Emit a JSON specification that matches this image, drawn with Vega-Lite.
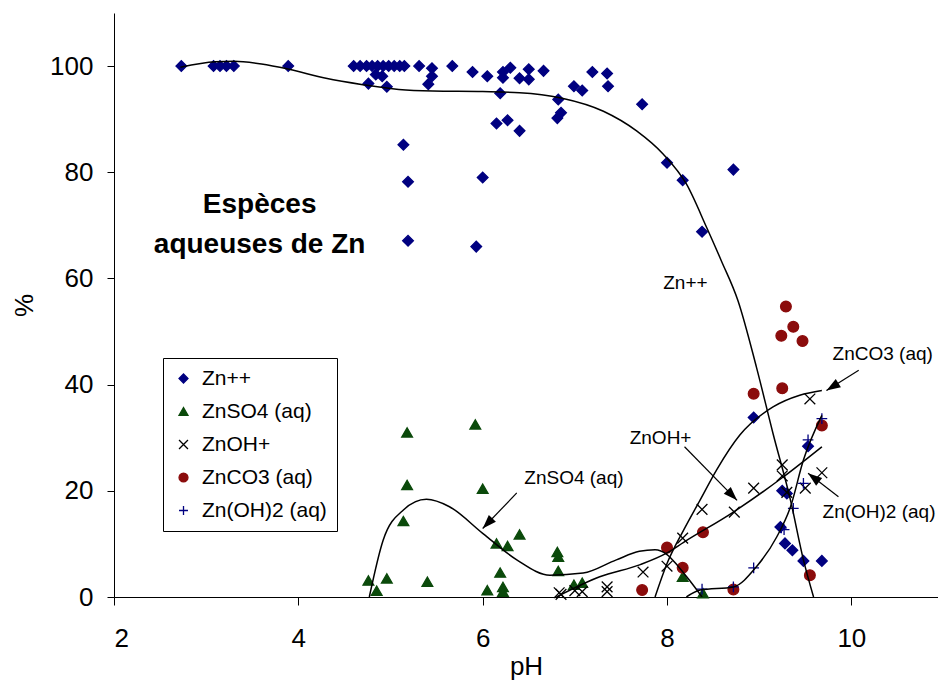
{
  "$schema": "https://vega.github.io/schema/vega-lite/v6.json",
  "width": 824,
  "height": 584,
  "autosize": {"type": "none"},
  "padding": {"left": 114, "top": 13, "right": 0, "bottom": 86},
  "background": "white",
  "config": {
    "view": {"stroke": null},
    "font": "Liberation Sans",
    "axis": {
      "grid": false,
      "domainColor": "black",
      "domainWidth": 1,
      "tickColor": "black",
      "tickWidth": 1,
      "labelColor": "black",
      "titleColor": "black",
      "labelFont": "Liberation Sans",
      "titleFont": "Liberation Sans",
      "labelFontSize": 26,
      "titleFontSize": 26,
      "titleFontWeight": "normal"
    },
    "legend": {
      "strokeColor": "black",
      "fillColor": "white",
      "padding": 10,
      "rowPadding": 11,
      "labelFontSize": 21,
      "labelFont": "Liberation Sans",
      "labelColor": "black",
      "symbolSize": 80,
      "symbolStrokeWidth": 1.3,
      "labelOffset": 8,
      "cornerRadius": 0
    }
  },
  "datasets": {
    "pts": [
      {"pH": 2.73, "pct": 100, "s": "Zn++"},
      {"pH": 3.08, "pct": 100, "s": "Zn++"},
      {"pH": 3.15, "pct": 100, "s": "Zn++"},
      {"pH": 3.22, "pct": 100, "s": "Zn++"},
      {"pH": 3.30, "pct": 100, "s": "Zn++"},
      {"pH": 3.89, "pct": 100, "s": "Zn++"},
      {"pH": 4.60, "pct": 100, "s": "Zn++"},
      {"pH": 4.67, "pct": 100, "s": "Zn++"},
      {"pH": 4.74, "pct": 100, "s": "Zn++"},
      {"pH": 4.80, "pct": 100, "s": "Zn++"},
      {"pH": 4.86, "pct": 100, "s": "Zn++"},
      {"pH": 4.92, "pct": 100, "s": "Zn++"},
      {"pH": 4.98, "pct": 100, "s": "Zn++"},
      {"pH": 5.04, "pct": 100, "s": "Zn++"},
      {"pH": 5.10, "pct": 100, "s": "Zn++"},
      {"pH": 5.15, "pct": 100, "s": "Zn++"},
      {"pH": 4.84, "pct": 98.4, "s": "Zn++"},
      {"pH": 4.91, "pct": 98.1, "s": "Zn++"},
      {"pH": 4.76, "pct": 96.7, "s": "Zn++"},
      {"pH": 4.96, "pct": 96.1, "s": "Zn++"},
      {"pH": 5.14, "pct": 85.2, "s": "Zn++"},
      {"pH": 5.19, "pct": 78.2, "s": "Zn++"},
      {"pH": 5.19, "pct": 67.1, "s": "Zn++"},
      {"pH": 5.31, "pct": 100, "s": "Zn++"},
      {"pH": 5.45, "pct": 99.6, "s": "Zn++"},
      {"pH": 5.45, "pct": 98.1, "s": "Zn++"},
      {"pH": 5.41, "pct": 96.6, "s": "Zn++"},
      {"pH": 5.67, "pct": 100, "s": "Zn++"},
      {"pH": 5.89, "pct": 98.9, "s": "Zn++"},
      {"pH": 6.05, "pct": 98.1, "s": "Zn++"},
      {"pH": 6.22, "pct": 98.9, "s": "Zn++"},
      {"pH": 6.30, "pct": 99.7, "s": "Zn++"},
      {"pH": 6.22, "pct": 97.8, "s": "Zn++"},
      {"pH": 6.40, "pct": 97.7, "s": "Zn++"},
      {"pH": 6.50, "pct": 99.4, "s": "Zn++"},
      {"pH": 6.50, "pct": 97.5, "s": "Zn++"},
      {"pH": 6.66, "pct": 99.1, "s": "Zn++"},
      {"pH": 6.19, "pct": 94.9, "s": "Zn++"},
      {"pH": 6.15, "pct": 89.2, "s": "Zn++"},
      {"pH": 6.27, "pct": 89.8, "s": "Zn++"},
      {"pH": 6.40, "pct": 87.8, "s": "Zn++"},
      {"pH": 6.00, "pct": 79.0, "s": "Zn++"},
      {"pH": 5.93, "pct": 66.0, "s": "Zn++"},
      {"pH": 6.82, "pct": 93.7, "s": "Zn++"},
      {"pH": 6.85, "pct": 91.2, "s": "Zn++"},
      {"pH": 6.81, "pct": 90.2, "s": "Zn++"},
      {"pH": 6.99, "pct": 96.2, "s": "Zn++"},
      {"pH": 7.08, "pct": 95.4, "s": "Zn++"},
      {"pH": 7.19, "pct": 98.9, "s": "Zn++"},
      {"pH": 7.35, "pct": 98.6, "s": "Zn++"},
      {"pH": 7.36, "pct": 96.2, "s": "Zn++"},
      {"pH": 7.73, "pct": 92.8, "s": "Zn++"},
      {"pH": 8.00, "pct": 81.8, "s": "Zn++"},
      {"pH": 8.17, "pct": 78.5, "s": "Zn++"},
      {"pH": 8.72, "pct": 80.5, "s": "Zn++"},
      {"pH": 8.38, "pct": 68.8, "s": "Zn++"},
      {"pH": 8.94, "pct": 33.8, "s": "Zn++"},
      {"pH": 9.53, "pct": 28.4, "s": "Zn++"},
      {"pH": 9.25, "pct": 20.0, "s": "Zn++"},
      {"pH": 9.30, "pct": 19.5, "s": "Zn++"},
      {"pH": 9.23, "pct": 13.2, "s": "Zn++"},
      {"pH": 9.28, "pct": 10.1, "s": "Zn++"},
      {"pH": 9.36, "pct": 8.8, "s": "Zn++"},
      {"pH": 9.48, "pct": 6.8, "s": "Zn++"},
      {"pH": 9.68, "pct": 6.8, "s": "Zn++"},
      {"pH": 5.18, "pct": 31.0, "s": "ZnSO4 (aq)"},
      {"pH": 5.92, "pct": 32.5, "s": "ZnSO4 (aq)"},
      {"pH": 5.18, "pct": 21.1, "s": "ZnSO4 (aq)"},
      {"pH": 6.00, "pct": 20.4, "s": "ZnSO4 (aq)"},
      {"pH": 5.14, "pct": 14.3, "s": "ZnSO4 (aq)"},
      {"pH": 4.76, "pct": 3.1, "s": "ZnSO4 (aq)"},
      {"pH": 4.96, "pct": 3.5, "s": "ZnSO4 (aq)"},
      {"pH": 4.85, "pct": 1.2, "s": "ZnSO4 (aq)"},
      {"pH": 5.40, "pct": 2.9, "s": "ZnSO4 (aq)"},
      {"pH": 6.15, "pct": 10.1, "s": "ZnSO4 (aq)"},
      {"pH": 6.27, "pct": 9.6, "s": "ZnSO4 (aq)"},
      {"pH": 6.40, "pct": 11.8, "s": "ZnSO4 (aq)"},
      {"pH": 6.19, "pct": 4.6, "s": "ZnSO4 (aq)"},
      {"pH": 6.05, "pct": 1.3, "s": "ZnSO4 (aq)"},
      {"pH": 6.22, "pct": 1.9, "s": "ZnSO4 (aq)"},
      {"pH": 6.22, "pct": 1.0, "s": "ZnSO4 (aq)"},
      {"pH": 6.81, "pct": 8.5, "s": "ZnSO4 (aq)"},
      {"pH": 6.82, "pct": 7.6, "s": "ZnSO4 (aq)"},
      {"pH": 6.82, "pct": 4.9, "s": "ZnSO4 (aq)"},
      {"pH": 6.99, "pct": 2.3, "s": "ZnSO4 (aq)"},
      {"pH": 7.08, "pct": 2.7, "s": "ZnSO4 (aq)"},
      {"pH": 8.17, "pct": 3.8, "s": "ZnSO4 (aq)"},
      {"pH": 8.39, "pct": 0.7, "s": "ZnSO4 (aq)"},
      {"pH": 6.83, "pct": 0.8, "s": "ZnOH+"},
      {"pH": 6.85, "pct": 0.5, "s": "ZnOH+"},
      {"pH": 7.00, "pct": 1.2, "s": "ZnOH+"},
      {"pH": 7.08, "pct": 1.0, "s": "ZnOH+"},
      {"pH": 7.35, "pct": 1.9, "s": "ZnOH+"},
      {"pH": 7.35, "pct": 1.0, "s": "ZnOH+"},
      {"pH": 7.74, "pct": 4.7, "s": "ZnOH+"},
      {"pH": 8.00, "pct": 5.8, "s": "ZnOH+"},
      {"pH": 8.17, "pct": 11.1, "s": "ZnOH+"},
      {"pH": 8.38, "pct": 16.5, "s": "ZnOH+"},
      {"pH": 8.73, "pct": 16.0, "s": "ZnOH+"},
      {"pH": 8.94, "pct": 20.5, "s": "ZnOH+"},
      {"pH": 9.25, "pct": 24.9, "s": "ZnOH+"},
      {"pH": 9.25, "pct": 22.8, "s": "ZnOH+"},
      {"pH": 9.30, "pct": 19.7, "s": "ZnOH+"},
      {"pH": 9.50, "pct": 20.5, "s": "ZnOH+"},
      {"pH": 9.55, "pct": 37.3, "s": "ZnOH+"},
      {"pH": 9.68, "pct": 23.4, "s": "ZnOH+"},
      {"pH": 9.29, "pct": 54.7, "s": "ZnCO3 (aq)"},
      {"pH": 9.37, "pct": 50.9, "s": "ZnCO3 (aq)"},
      {"pH": 9.24, "pct": 49.2, "s": "ZnCO3 (aq)"},
      {"pH": 9.47, "pct": 48.2, "s": "ZnCO3 (aq)"},
      {"pH": 8.94, "pct": 38.3, "s": "ZnCO3 (aq)"},
      {"pH": 9.25, "pct": 39.3, "s": "ZnCO3 (aq)"},
      {"pH": 9.68, "pct": 32.3, "s": "ZnCO3 (aq)"},
      {"pH": 9.55, "pct": 4.1, "s": "ZnCO3 (aq)"},
      {"pH": 8.39, "pct": 12.2, "s": "ZnCO3 (aq)"},
      {"pH": 8.00, "pct": 9.3, "s": "ZnCO3 (aq)"},
      {"pH": 8.17, "pct": 5.5, "s": "ZnCO3 (aq)"},
      {"pH": 7.73, "pct": 1.3, "s": "ZnCO3 (aq)"},
      {"pH": 8.72, "pct": 1.4, "s": "ZnCO3 (aq)"},
      {"pH": 9.68, "pct": 33.6, "s": "Zn(OH)2 (aq)"},
      {"pH": 9.53, "pct": 29.6, "s": "Zn(OH)2 (aq)"},
      {"pH": 9.48, "pct": 21.4, "s": "Zn(OH)2 (aq)"},
      {"pH": 9.37, "pct": 16.7, "s": "Zn(OH)2 (aq)"},
      {"pH": 9.24, "pct": 13.0, "s": "Zn(OH)2 (aq)"},
      {"pH": 9.27, "pct": 12.7, "s": "Zn(OH)2 (aq)"},
      {"pH": 8.94, "pct": 5.5, "s": "Zn(OH)2 (aq)"},
      {"pH": 8.72, "pct": 1.9, "s": "Zn(OH)2 (aq)"},
      {"pH": 8.38, "pct": 1.5, "s": "Zn(OH)2 (aq)"}
    ],
    "curves": [
      {"c": "Zn++", "pH": 2.72, "pct": 99.8},
      {"c": "Zn++", "pH": 3.10, "pct": 100.8},
      {"c": "Zn++", "pH": 3.30, "pct": 100.9},
      {"c": "Zn++", "pH": 3.60, "pct": 100.4},
      {"c": "Zn++", "pH": 3.90, "pct": 99.4},
      {"c": "Zn++", "pH": 4.30, "pct": 97.7},
      {"c": "Zn++", "pH": 4.70, "pct": 96.5},
      {"c": "Zn++", "pH": 5.09, "pct": 95.6},
      {"c": "Zn++", "pH": 5.46, "pct": 95.3},
      {"c": "Zn++", "pH": 6.00, "pct": 95.2},
      {"c": "Zn++", "pH": 6.40, "pct": 95.0},
      {"c": "Zn++", "pH": 6.85, "pct": 94.0},
      {"c": "Zn++", "pH": 7.31, "pct": 91.5},
      {"c": "Zn++", "pH": 7.67, "pct": 87.8},
      {"c": "Zn++", "pH": 7.96, "pct": 83.4},
      {"c": "Zn++", "pH": 8.21, "pct": 77.8},
      {"c": "Zn++", "pH": 8.43, "pct": 69.6},
      {"c": "Zn++", "pH": 8.59, "pct": 63.3},
      {"c": "Zn++", "pH": 8.77, "pct": 55.8},
      {"c": "Zn++", "pH": 8.97, "pct": 43.3},
      {"c": "Zn++", "pH": 9.15, "pct": 30.8},
      {"c": "Zn++", "pH": 9.34, "pct": 18.2},
      {"c": "Zn++", "pH": 9.48, "pct": 7.0},
      {"c": "Zn++", "pH": 9.59, "pct": 0},
      {"c": "ZnSO4", "pH": 4.77, "pct": 0},
      {"c": "ZnSO4", "pH": 4.92, "pct": 10.7},
      {"c": "ZnSO4", "pH": 5.14, "pct": 16.4},
      {"c": "ZnSO4", "pH": 5.39, "pct": 18.4},
      {"c": "ZnSO4", "pH": 5.64, "pct": 17.0},
      {"c": "ZnSO4", "pH": 6.00, "pct": 12.0},
      {"c": "ZnSO4", "pH": 6.37, "pct": 7.0},
      {"c": "ZnSO4", "pH": 6.73, "pct": 4.1},
      {"c": "ZnSO4", "pH": 7.09, "pct": 4.5},
      {"c": "ZnSO4", "pH": 7.45, "pct": 7.0},
      {"c": "ZnSO4", "pH": 7.70, "pct": 8.6},
      {"c": "ZnSO4", "pH": 7.87, "pct": 8.9},
      {"c": "ZnSO4", "pH": 8.00, "pct": 8.0},
      {"c": "ZnSO4", "pH": 8.12, "pct": 5.8},
      {"c": "ZnSO4", "pH": 8.25, "pct": 3.0},
      {"c": "ZnSO4", "pH": 8.38, "pct": 0},
      {"c": "ZnOH", "pH": 6.80, "pct": 0},
      {"c": "ZnOH", "pH": 7.27, "pct": 3.8},
      {"c": "ZnOH", "pH": 7.71, "pct": 6.1},
      {"c": "ZnOH", "pH": 8.00, "pct": 8.3},
      {"c": "ZnOH", "pH": 8.18, "pct": 10.3},
      {"c": "ZnOH", "pH": 8.72, "pct": 16.0},
      {"c": "ZnOH", "pH": 9.26, "pct": 22.6},
      {"c": "ZnOH", "pH": 9.68, "pct": 28.3},
      {"c": "ZnCO3", "pH": 7.87, "pct": 0},
      {"c": "ZnCO3", "pH": 8.00, "pct": 6.3},
      {"c": "ZnCO3", "pH": 8.18, "pct": 12.6},
      {"c": "ZnCO3", "pH": 8.36, "pct": 18.3},
      {"c": "ZnCO3", "pH": 8.54, "pct": 24.0},
      {"c": "ZnCO3", "pH": 8.79, "pct": 30.5},
      {"c": "ZnCO3", "pH": 9.15, "pct": 35.8},
      {"c": "ZnCO3", "pH": 9.44, "pct": 38.0},
      {"c": "ZnCO3", "pH": 9.68, "pct": 38.9},
      {"c": "ZnOH2", "pH": 8.21, "pct": 0},
      {"c": "ZnOH2", "pH": 8.36, "pct": 1.3},
      {"c": "ZnOH2", "pH": 8.72, "pct": 1.9},
      {"c": "ZnOH2", "pH": 8.97, "pct": 5.7},
      {"c": "ZnOH2", "pH": 9.19, "pct": 11.3},
      {"c": "ZnOH2", "pH": 9.34, "pct": 17.0},
      {"c": "ZnOH2", "pH": 9.48, "pct": 25.8},
      {"c": "ZnOH2", "pH": 9.68, "pct": 34.2}
    ],
    "arrows": [
      {"a": "ZnSO4", "pH": 6.0, "pct": 12.9, "pH2": 6.37, "pct2": 19.6},
      {"a": "ZnOH", "pH": 8.76, "pct": 18.2, "pH2": 8.19, "pct2": 28.3},
      {"a": "ZnCO3", "pH": 9.73, "pct": 38.9, "pH2": 10.08, "pct2": 42.7},
      {"a": "ZnOH2", "pH": 9.53, "pct": 23.3, "pH2": 9.86, "pct2": 18.9}
    ],
    "notes": [
      {"t": "Zn++", "pH": 8.20, "pct": 59.2},
      {"t": "ZnSO4 (aq)", "pH": 6.99, "pct": 22.4},
      {"t": "ZnOH+", "pH": 7.93, "pct": 29.9},
      {"t": "ZnCO3 (aq)", "pH": 10.34, "pct": 45.7},
      {"t": "Zn(OH)2 (aq)", "pH": 10.30, "pct": 16.0}
    ],
    "heading": [
      {"t": "Espèces\naqueuses de Zn", "pH": 3.58, "pct": 73.8}
    ]
  },
  "encoding": {
    "x": {
      "field": "pH",
      "type": "quantitative",
      "scale": {"domain": [2, 10.94], "nice": false, "zero": false},
      "axis": {"title": "pH", "values": [2, 4, 6, 8, 10], "tickSize": 8, "labelPadding": 20, "titlePadding": 2}
    },
    "y": {
      "field": "pct",
      "type": "quantitative",
      "scale": {"domain": [0, 110], "nice": false},
      "axis": {"title": "%", "values": [0, 20, 40, 60, 80, 100], "tickSize": 7, "labelPadding": 14, "titlePadding": 12}
    }
  },
  "layer": [
    {
      "data": {"name": "pts"},
      "mark": {"type": "point", "filled": true, "opacity": 1, "size": 115, "strokeWidth": 1.3},
      "encoding": {
        "fill": {
          "field": "s", "type": "nominal",
          "scale": {"domain": ["Zn++", "ZnSO4 (aq)", "ZnOH+", "ZnCO3 (aq)", "Zn(OH)2 (aq)"], "range": ["#000080", "#0b4a0b", "#000000", "#8b0c0c", "#000080"]},
          "legend": {"orient": "none", "legendX": 49, "legendY": 345, "title": null}
        },
        "stroke": {
          "field": "s", "type": "nominal",
          "scale": {"domain": ["Zn++", "ZnSO4 (aq)", "ZnOH+", "ZnCO3 (aq)", "Zn(OH)2 (aq)"], "range": ["#000080", "#0b4a0b", "#000000", "#8b0c0c", "#000080"]},
          "legend": {"orient": "none", "legendX": 49, "legendY": 345, "title": null}
        },
        "shape": {
          "field": "s", "type": "nominal",
          "scale": {"domain": ["Zn++", "ZnSO4 (aq)", "ZnOH+", "ZnCO3 (aq)", "Zn(OH)2 (aq)"], "range": ["diamond", "triangle-up", "M-1,-1L1,1M-1,1L1,-1", "circle", "M-1,0L1,0M0,-1L0,1"]},
          "legend": {"orient": "none", "legendX": 49, "legendY": 345, "title": null}
        }
      }
    },
    {
      "data": {"name": "curves"},
      "mark": {"type": "line", "interpolate": "monotone", "color": "black", "strokeWidth": 1.5, "clip": true},
      "encoding": {"detail": {"field": "c", "type": "nominal"}}
    },
    {
      "data": {"name": "arrows"},
      "mark": {"type": "rule", "color": "black", "strokeWidth": 1.2},
      "encoding": {"x2": {"field": "pH2"}, "y2": {"field": "pct2"}}
    },
    {
      "data": {"name": "arrows"},
      "transform": [{"filter": "datum.a == 'ZnSO4'"}],
      "mark": {"type": "point", "shape": "M0,0L0.7,2L-0.7,2Z", "filled": true, "color": "black", "opacity": 1, "size": 196, "angle": 223.8}
    },
    {
      "data": {"name": "arrows"},
      "transform": [{"filter": "datum.a == 'ZnOH'"}],
      "mark": {"type": "point", "shape": "M0,0L0.7,2L-0.7,2Z", "filled": true, "color": "black", "opacity": 1, "size": 196, "angle": 135.6}
    },
    {
      "data": {"name": "arrows"},
      "transform": [{"filter": "datum.a == 'ZnCO3'"}],
      "mark": {"type": "point", "shape": "M0,0L0.7,2L-0.7,2Z", "filled": true, "color": "black", "opacity": 1, "size": 196, "angle": 237.9}
    },
    {
      "data": {"name": "arrows"},
      "transform": [{"filter": "datum.a == 'ZnOH2'"}],
      "mark": {"type": "point", "shape": "M0,0L0.7,2L-0.7,2Z", "filled": true, "color": "black", "opacity": 1, "size": 196, "angle": 307.6}
    },
    {
      "data": {"name": "notes"},
      "mark": {"type": "text", "font": "Liberation Sans", "fontSize": 19, "color": "black", "align": "center", "baseline": "middle"},
      "encoding": {"text": {"field": "t"}}
    },
    {
      "data": {"name": "heading"},
      "mark": {"type": "text", "font": "Liberation Sans", "fontSize": 28, "fontWeight": "bold", "color": "black", "align": "center", "baseline": "middle", "lineBreak": "\n", "lineHeight": 40},
      "encoding": {"text": {"field": "t"}}
    }
  ]
}
